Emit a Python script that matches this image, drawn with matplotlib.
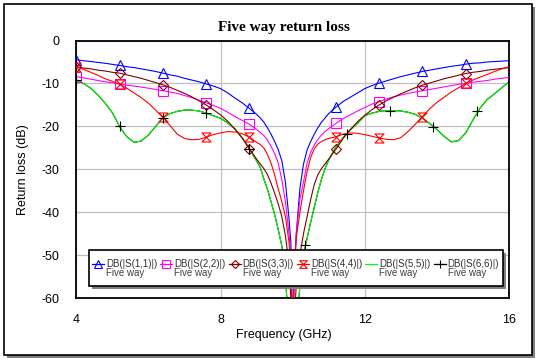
import matplotlib
matplotlib.use("Agg")
import matplotlib.pyplot as plt
from matplotlib.path import Path
from matplotlib.patches import Rectangle
from matplotlib.lines import Line2D

plt.rcParams['font.family'] = ['Liberation Sans', 'DejaVu Sans']
plt.rcParams['axes.unicode_minus'] = False

# ---------------- data ----------------
freq_ghz = [4.0, 4.2, 4.4, 4.6, 4.8, 5.0, 5.2, 5.4, 5.6, 5.8, 6.0, 6.2, 6.4, 6.6, 6.8,
            7.0, 7.2, 7.4, 7.6, 7.8, 8.0, 8.2, 8.4, 8.6, 8.8, 9.0,
            9.1, 9.2, 9.3, 9.4, 9.5, 9.6, 9.7, 9.8, 9.9,
            9.95, 10.0, 10.05,
            10.1, 10.2, 10.3, 10.4, 10.5, 10.6, 10.7, 10.8, 10.9,
            11.0, 11.2, 11.4, 11.6, 11.8, 12.0, 12.2, 12.4, 12.6, 12.8, 13.0, 13.2,
            13.4, 13.6, 13.8, 14.0, 14.2, 14.4, 14.6, 14.8, 15.0, 15.2, 15.4, 15.6,
            15.8, 16.0]

s11_db = [-4.5, -4.7, -4.9, -5.1, -5.3, -5.55, -5.8, -6.1, -6.3, -6.6, -6.9, -7.2, -7.6, -8.0, -8.3,
          -8.8, -9.2, -9.6, -10.1, -10.6, -11.2, -12.2, -13.4, -14.5, -15.8, -17.2,
          -18.0, -19.0, -20.3, -21.8, -23.5, -25.4, -28.0, -33.0, -41.5,
          -47.0, -66.0, -52.0,
          -45.0, -34.5, -28.8, -25.5, -23.5, -21.8, -20.3, -19.0, -18.0,
          -17.0, -15.5, -14.2, -13.2, -12.2, -11.2, -10.5, -9.9, -9.4, -8.9, -8.4, -8.0,
          -7.6, -7.2, -6.9, -6.6, -6.3, -6.0, -5.8, -5.5, -5.3, -5.2, -5.0, -4.9,
          -4.8, -4.7]

s22_db = [-8.4, -8.7, -9.0, -9.3, -9.6, -9.85, -10.1, -10.4, -10.6, -10.85, -11.1, -11.4, -11.7, -12.0, -12.3,
          -12.8, -13.3, -13.9, -14.5, -15.1, -15.8, -16.7, -17.7, -18.6, -19.5, -20.7,
          -21.4, -22.1, -23.2, -24.6, -26.3, -28.5, -32.5, -37.5, -45.0,
          -50.0, -70.0, -54.0,
          -45.0, -37.0, -33.0, -28.5, -26.0, -24.3, -23.0, -22.0, -21.2,
          -20.5, -19.3, -18.2, -17.3, -16.4, -15.6, -14.8, -14.2, -13.6, -13.1, -12.7, -12.3,
          -12.0, -11.7, -11.4, -11.1, -10.8, -10.5, -10.2, -10.0, -9.7, -9.5, -9.3, -9.0,
          -8.8, -8.6]

s33_db = [-6.2, -6.4, -6.6, -6.9, -7.1, -7.4, -7.6, -8.0, -8.4, -8.8, -9.3, -9.8, -10.3, -10.9, -11.6,
          -12.3, -13.1, -14.0, -15.0, -16.1, -17.3, -18.8, -20.6, -22.7, -25.2, -27.6,
          -28.7, -29.8, -31.2, -33.2, -35.5, -38.0, -41.0, -45.5, -52.0,
          -60.0, -75.0, -64.0,
          -57.0, -50.0, -45.0, -41.0, -37.0, -33.5, -31.2, -29.8, -28.7,
          -27.6, -25.3, -22.8, -20.7, -18.9, -17.4, -16.1, -15.0, -14.0, -13.2, -12.4, -11.7,
          -11.0, -10.4, -9.9, -9.4, -8.9, -8.5, -8.1, -7.7, -7.4, -7.2, -6.9, -6.7,
          -6.5, -6.3]

s44_db = [-6.1, -6.7, -7.4, -8.1, -8.9, -9.5, -10.2, -11.1, -12.2, -13.3, -14.6, -16.2, -17.9, -19.8, -21.8,
          -22.8, -23.1, -23.0, -22.5, -21.9, -21.5, -21.2, -21.3, -21.7, -22.5, -23.7,
          -24.2, -25.0, -26.5, -28.5, -31.3, -34.5, -37.5, -41.0, -47.0,
          -52.0, -70.0, -53.0,
          -46.0, -40.0, -35.0, -30.5, -27.2, -25.2, -24.1, -23.5, -23.1,
          -22.8, -22.4, -21.8, -21.5, -21.6, -21.9, -22.3, -22.7, -23.0, -23.1, -22.6, -21.2,
          -19.5, -17.7, -15.9, -14.4, -13.2, -12.0, -11.0, -10.0, -9.2, -8.5, -7.9, -7.2,
          -6.6, -6.1]

s55_db = [-9.2, -10.0, -11.1, -12.7, -14.6, -16.8, -20.0, -22.4, -23.7, -23.4, -22.0, -20.0, -18.0, -17.0, -16.5,
          -16.2, -16.2, -16.4, -16.9, -17.5, -18.1, -19.2, -20.6, -22.6, -25.2, -28.0,
          -29.5, -32.2, -34.6, -37.5, -40.5, -44.0, -47.8, -55.0, -68.0,
          -75.0, -80.0, -75.0,
          -70.0, -57.0, -50.0, -46.0, -42.3, -38.8, -35.3, -32.3, -29.8,
          -27.8, -24.8, -22.6, -20.8, -19.3, -17.5, -16.9, -16.5, -16.3, -16.3, -16.4, -16.7,
          -17.2, -18.1, -19.3, -20.7, -22.3, -23.6, -23.3, -21.5, -18.5, -15.7, -13.7, -12.4,
          -11.0, -9.6]

# S(6,6) lies on top of S(5,5) in the picture
s66_db = list(s55_db)
s66_marker_ghz = [4.0, 5.2, 6.4, 7.6, 8.8, 10.33, 11.5, 12.7, 13.9, 15.1]
s66_marker_db = [-9.2, -20.0, -18.0, -16.9, -25.2, -47.7, -21.7, -16.3, -20.2, -16.3]

marker_ghz = [4.0, 5.2, 6.4, 7.6, 8.8, 11.2, 12.4, 13.6, 14.8]

series_labels = ['DB(|S(1,1)|)', 'DB(|S(2,2)|)', 'DB(|S(3,3)|)',
                 'DB(|S(4,4)|)', 'DB(|S(5,5)|)', 'DB(|S(6,6)|)']
series_sub = 'Five way'
title = 'Five way return loss'
xlabel = 'Frequency (GHz)'
ylabel = 'Return loss (dB)'
xticks = [4, 8, 12, 16]
yticks = [0, -10, -20, -30, -40, -50, -60]

# ---------------- styling ----------------
W, H = 538, 360
fig = plt.figure(figsize=(W / 100, H / 100), dpi=100)

def fx(px):
    return px / W

def fy(py):
    return 1 - py / H

# outer frame with shadow
fig.patches.append(Rectangle((fx(7), fy(358)), fx(528), 351 / H,
                             transform=fig.transFigure, facecolor='#808080',
                             edgecolor='none', zorder=-10))
fig.patches.append(Rectangle((fx(4), fy(355)), fx(528), 351 / H,
                             transform=fig.transFigure, facecolor='white',
                             edgecolor='black', linewidth=1.2, zorder=-9))

ax_l, ax_r, ax_t, ax_b = 76.3, 509.0, 40.5, 298.3
ax = fig.add_axes([fx(ax_l), fy(ax_b), (ax_r - ax_l) / W, (ax_b - ax_t) / H])
ax.set_zorder(1)
ax.set_xlim(4, 16)
ax.set_ylim(-60, 0)
ax.set_xticks(xticks)
ax.set_xticklabels([str(t) for t in xticks])
ax.set_yticks(yticks)
ax.set_yticklabels([str(t) for t in yticks])
ax.tick_params(length=0, labelsize=9, colors='black')
ax.tick_params(axis='x', pad=11)
ax.tick_params(axis='y', pad=12)
ax.grid(True, color='#c0c0c0', linewidth=0.9)
ax.set_axisbelow(True)
for s in ax.spines.values():
    s.set_linewidth(1.3)

bowtie = Path([(-1, 1), (1, 1), (-1, -1), (1, -1), (-1, 1)],
              [Path.MOVETO, Path.LINETO, Path.LINETO, Path.LINETO, Path.CLOSEPOLY])

mark_idx = [freq_ghz.index(f) for f in marker_ghz]

styles = [
    dict(color='#0000ff', marker='^', ms=7),
    dict(color='#ff00ff', marker='s', ms=7.5),
    dict(color='#800000', marker='D', ms=5),
    dict(color='#ff0000', marker=bowtie, ms=6.5),
]
data = [s11_db, s22_db, s33_db, s44_db]

# S(6,6) black line below green
ax.plot(freq_ghz, s66_db, color='black', lw=0.8, zorder=2)
ax.plot(freq_ghz, s55_db, color='#00ff00', lw=0.8, zorder=2.5)
for d, st in zip(data, styles):
    ax.plot(freq_ghz, d, color=st['color'], lw=0.8, marker=st['marker'],
            ms=st['ms'], mfc='none', mec=st['color'], mew=0.8,
            markevery=mark_idx, zorder=3)
ax.plot(s66_marker_ghz, s66_marker_db, linestyle='none', marker='+', ms=7,
        mec='black', mew=0.8, zorder=4)

ax.set_xlabel(xlabel, fontsize=9)
ax.set_ylabel(ylabel, fontsize=9)
ax.xaxis.set_label_coords((284 - ax_l) / (ax_r - ax_l), (ax_b - 335) / (ax_b - ax_t))
ax.yaxis.set_label_coords((23 - ax_l) / (ax_r - ax_l), (ax_b - 170) / (ax_b - ax_t))
ax.xaxis.label.set_va('center')
ax.yaxis.label.set_va('center')

fig.text(fx(284), fy(28), title, family=['Liberation Serif'], fontweight='bold',
         fontsize=11, ha='center', va='center')

# ---------------- legend (drawn by hand) ----------------
lg_l, lg_r, lg_t, lg_b = 89, 503, 250, 286
fig.patches.append(Rectangle((fx(lg_l + 3), fy(lg_b + 3)), (lg_r - lg_l) / W, (lg_b - lg_t) / H,
                             transform=fig.transFigure, facecolor='#808080',
                             edgecolor='none', zorder=5))
fig.patches.append(Rectangle((fx(lg_l), fy(lg_b)), (lg_r - lg_l) / W, (lg_b - lg_t) / H,
                             transform=fig.transFigure, facecolor='white',
                             edgecolor='black', linewidth=1.2, zorder=6))

leg_styles = styles + [dict(color='#00ff00', marker=None, ms=0),
                       dict(color='black', marker='+', ms=7)]
for i, (lab, st) in enumerate(zip(series_labels, leg_styles)):
    x0 = 92 + i * 68.3
    ln = Line2D([fx(x0), fx(x0 + 12)], [fy(264), fy(264)], transform=fig.transFigure,
                color=st['color'], lw=0.9, zorder=7)
    fig.lines.append(ln)
    if st['marker'] is not None:
        mk = Line2D([fx(x0 + 6)], [fy(264)], transform=fig.transFigure,
                    linestyle='none', marker=st['marker'], ms=st['ms'] * 0.85,
                    mfc='none', mec=st['color'], mew=0.8, zorder=7)
        fig.lines.append(mk)
    fig.text(fx(x0 + 14), fy(264), lab, fontsize=7, color='#303030',
             ha='left', va='center', zorder=7)
    fig.text(fx(x0 + 14), fy(273.5), series_sub, fontsize=7, color='#404040',
             ha='left', va='center', zorder=7)

fig.savefig('out.png', dpi=100)
